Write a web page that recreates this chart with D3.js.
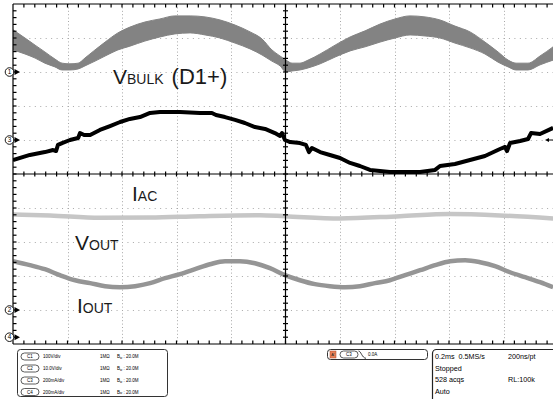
<!DOCTYPE html>
<html>
<head>
<meta charset="utf-8">
<script src="https://cdn.jsdelivr.net/npm/d3@7"></script>
<style>
  body { margin: 0; background: #fff; }
  svg { display: block; font-family: "Liberation Sans", Arial, sans-serif; }
  text { white-space: pre; }
</style>
</head>
<body>
<svg id="scope" width="553" height="399"></svg>
<script>
// ---- Time base and graticule (0.2 ms/div, 10 divisions) ----
const timeDomainMs = [0, 2];
const divDomain = [-5, 5];

// ---- Channel settings ----
const channelIds      = ["C1", "C2", "C3", "C4"];
const channelScaleTxt = ["100V/div", "10.0V/div", "200mA/div", "200mA/div"];
const unitsPerDiv     = [100, 10, 200, 200];
const groundDiv       = [3, -4, 1, -4.8];
const markerLabels    = ["1", "2", "3", "4"];

// ---- C1: bulk capacitor voltage, ripple envelope (V) ----
const bulkTime = [0.000,0.044,0.081,0.117,0.154,0.180,0.209,0.239,0.264,0.301,0.338,0.385,0.429,0.484,0.539,0.594,0.650,0.705,0.760,0.815,0.870,0.914,0.950,0.980,1.002,1.024,1.053,1.083,1.127,1.182,1.237,1.292,1.347,1.402,1.457,1.512,1.567,1.622,1.677,1.732,1.780,1.817,1.846,1.890,1.934,1.982];
const bulkHigh = [124,100,79,59,38,26,24,26,41,65,88,115,132,147,156,165,165,162,153,138,118,97,65,47,35,26,26,35,53,79,103,121,141,156,165,162,153,135,118,88,59,35,26,26,47,74];
const bulkLow  = [65,53,41,26,15,6,6,9,18,32,47,65,76,91,103,112,115,109,100,85,68,50,32,18,0,3,6,12,24,44,62,74,88,100,109,106,100,85,71,53,29,15,6,6,21,35];

// ---- C2: output voltage (V) ----
const voutTime  = [0.000,0.136,0.319,0.503,0.686,0.906,0.998,1.200,1.420,1.604,1.787,1.982];
const voutValue = [28.1,27.8,27.1,27.2,27.6,27.9,27.6,26.9,27.6,28.2,27.8,26.9];

// ---- C3: input current (mA) ----
const iacTime  = [0.000,0.062,0.117,0.147,0.158,0.165,0.180,0.209,0.239,0.246,0.261,0.283,0.319,0.356,0.393,0.429,0.466,0.503,0.539,0.613,0.686,0.730,0.745,0.778,0.815,0.851,0.888,0.925,0.961,0.980,0.987,0.998,1.017,1.053,1.075,1.086,1.097,1.127,1.163,1.200,1.237,1.273,1.310,1.383,1.494,1.549,1.567,1.622,1.677,1.732,1.787,1.806,1.813,1.824,1.861,1.890,1.901,1.934,1.982];
const iacValue = [-118,-88,-71,-59,-65,-29,-18,0,12,41,29,29,59,82,106,124,135,159,165,165,159,159,147,135,118,100,76,65,41,24,41,0,-12,-18,-29,-71,-47,-71,-88,-106,-135,-153,-176,-188,-188,-176,-153,-141,-118,-94,-53,-41,-65,-18,-6,6,41,35,71];

// ---- C4: output current (mA) ----
const ioutTime  = [0.000,0.062,0.117,0.172,0.228,0.283,0.338,0.393,0.448,0.503,0.558,0.613,0.668,0.723,0.778,0.833,0.888,0.943,0.998,1.053,1.108,1.163,1.218,1.273,1.328,1.383,1.439,1.494,1.549,1.604,1.659,1.714,1.769,1.824,1.879,1.934,1.982];
const ioutValue = [447,424,400,365,335,318,300,294,300,318,347,371,400,429,447,447,435,406,365,335,312,300,294,300,318,335,365,394,424,447,453,441,418,382,353,324,294];

// ---- Acquisition status ----
const statusLines = [["0.2ms  0.5MS/s", "200ns/pt"], ["Stopped", ""], ["528 acqs", "RL:100k"], ["Auto", ""]];
const bandwidthText = "20.0M";
const triggerLevel = "0.0A";

// ---- Layout ----
const svg = d3.select("#scope");
const plot = { left: 13, right: 558, top: 4, bottom: 344 };
const x = d3.scaleLinear().domain(timeDomainMs).range([plot.left, plot.right]);
const y = d3.scaleLinear().domain(divDomain).range([plot.bottom, plot.top]);
const toDiv = (ch, v) => v / unitsPerDiv[ch] + groundDiv[ch];

svg.append("defs").append("clipPath").attr("id", "plotClip")
  .append("rect").attr("x", plot.left).attr("y", plot.top)
  .attr("width", plot.right - plot.left).attr("height", plot.bottom - plot.top);

// dotted graticule
const grid = svg.append("g").attr("stroke", "#a8a8a8").attr("stroke-width", 1);
d3.range(0.2, 1.99, 0.2).forEach(t => {
  if (Math.abs(t - 1) < 1e-6) return;
  grid.append("line").attr("x1", Math.round(x(t)) + 0.5).attr("x2", Math.round(x(t)) + 0.5)
    .attr("y1", plot.top).attr("y2", plot.bottom).attr("stroke-dasharray", "1,2.4");
});
d3.range(-4, 5, 1).forEach(d => {
  if (d === 0) return;
  grid.append("line").attr("y1", Math.round(y(d)) + 0.5).attr("y2", Math.round(y(d)) + 0.5)
    .attr("x1", plot.left).attr("x2", plot.right).attr("stroke-dasharray", "1,4.45");
});

const traces = svg.append("g").attr("clip-path", "url(#plotClip)");

// C1 ripple band
const bulkData = bulkTime.map((t, i) => ({ t, hi: bulkHigh[i], lo: bulkLow[i] }));
traces.append("path").datum(bulkData)
  .attr("fill", "#838383").attr("stroke", "#838383").attr("stroke-width", 1)
  .attr("d", d3.area().curve(d3.curveMonotoneX)
    .x(d => x(d.t)).y0(d => y(toDiv(0, d.lo))).y1(d => y(toDiv(0, d.hi))));

// C2 output voltage
traces.append("path").datum(voutTime.map((t, i) => ({ t, v: voutValue[i] })))
  .attr("fill", "none").attr("stroke", "#c6c6c6").attr("stroke-width", 4.5)
  .attr("d", d3.line().curve(d3.curveMonotoneX).x(d => x(d.t)).y(d => y(toDiv(1, d.v))));

// C4 output current
traces.append("path").datum(ioutTime.map((t, i) => ({ t, v: ioutValue[i] })))
  .attr("fill", "none").attr("stroke", "#959595").attr("stroke-width", 4.5)
  .attr("d", d3.line().curve(d3.curveMonotoneX).x(d => x(d.t)).y(d => y(toDiv(3, d.v))));

// C3 input current
traces.append("path").datum(iacTime.map((t, i) => ({ t, v: iacValue[i] })))
  .attr("fill", "none").attr("stroke", "#000").attr("stroke-width", 4)
  .attr("stroke-linejoin", "round")
  .attr("d", d3.line().x(d => x(d.t)).y(d => y(toDiv(2, d.v))));

// axes and minor ticks
const ax = svg.append("g").attr("stroke", "#000").attr("stroke-width", 1.2);
ax.append("line").attr("x1", plot.left).attr("x2", plot.right).attr("y1", plot.top).attr("y2", plot.top);
ax.append("line").attr("x1", plot.left).attr("x2", plot.right).attr("y1", plot.bottom).attr("y2", plot.bottom);
ax.append("line").attr("x1", plot.left).attr("x2", plot.left).attr("y1", plot.top).attr("y2", plot.bottom);
ax.append("line").attr("x1", x(1)).attr("x2", x(1)).attr("y1", plot.top).attr("y2", plot.bottom);
ax.append("line").attr("x1", plot.left).attr("x2", plot.right).attr("y1", y(0)).attr("y2", y(0));
d3.range(0.04, 1.999, 0.04).forEach(t => {
  const px = x(t);
  ax.append("line").attr("x1", px).attr("x2", px).attr("y1", plot.top).attr("y2", plot.top + 3.5);
  ax.append("line").attr("x1", px).attr("x2", px).attr("y1", plot.bottom).attr("y2", plot.bottom - 3.5);
  ax.append("line").attr("x1", px).attr("x2", px).attr("y1", y(0) - 2.5).attr("y2", y(0) + 2.5);
});
d3.range(-4.8, 4.99, 0.2).forEach(d => {
  const py = y(d);
  ax.append("line").attr("x1", plot.left).attr("x2", plot.left + 3.5).attr("y1", py).attr("y2", py);
  ax.append("line").attr("x1", x(1) - 2.5).attr("x2", x(1) + 2.5).attr("y1", py).attr("y2", py);
});

// channel ground markers
[0, 1, 2, 3].forEach(ch => {
  const py = y(groundDiv[ch]);
  const g = svg.append("g");
  g.append("circle").attr("cx", 9.5).attr("cy", py).attr("r", 4.3)
    .attr("fill", "#fff").attr("stroke", "#000").attr("stroke-width", 0.9);
  g.append("text").attr("x", 9.5).attr("y", py + 2.2).attr("text-anchor", "middle")
    .attr("font-size", 6.3).text(markerLabels[ch]);
  g.append("path").attr("d", `M14.5,${py - 3}L20,${py}L14.5,${py + 3}Z`).attr("fill", "#000");
});
// trigger level marker on the right
const trigY = y(groundDiv[2]);
svg.append("path").attr("d", `M545,${trigY}L549,${trigY - 2}L549,${trigY + 2}Z`).attr("fill", "#000");
svg.append("line").attr("x1", 548).attr("x2", 553).attr("y1", trigY).attr("y2", trigY)
  .attr("stroke", "#000").attr("stroke-width", 1);

// trace annotations
function label(xp, yp, big, small, rest) {
  const t = svg.append("text").attr("x", xp).attr("y", yp).attr("fill", "#1a1a1a").attr("font-size", 21);
  t.append("tspan").text(big);
  t.append("tspan").attr("font-size", 14).text(small);
  if (rest) t.append("tspan").attr("dx", 8).attr("font-size", 22).text(rest);
}
label(113, 84, "V", "BULK", "(D1+)");
label(132, 201, "I", "AC");
label(75, 250, "V", "OUT");
label(77, 313, "I", "OUT");

// ---- bottom panels ----
const panel = svg.append("g");
panel.append("rect").attr("x", 17.5).attr("y", 349.5).attr("width", 150).attr("height", 47)
  .attr("rx", 3).attr("fill", "#fff").attr("stroke", "#333").attr("stroke-width", 1);
const rowY = [356.5, 368.5, 380.5, 392];
channelIds.forEach((id, i) => {
  const cy = rowY[i];
  panel.append("rect").attr("x", 21).attr("y", cy - 3.5).attr("width", 18).attr("height", 7)
    .attr("rx", 3.5).attr("fill", "#fff").attr("stroke", "#333").attr("stroke-width", 0.8);
  panel.append("text").attr("x", 30).attr("y", cy + 1.6).attr("text-anchor", "middle")
    .attr("font-size", 4.5).text(id);
  panel.append("text").attr("x", 43).attr("y", cy + 1.6).attr("font-size", 4.5).text(channelScaleTxt[i]);
  panel.append("text").attr("x", 100).attr("y", cy + 1.6).attr("font-size", 4.5).text("1MΩ");
  const bw = panel.append("text").attr("x", 117).attr("y", cy + 1.6).attr("font-size", 4.5);
  bw.append("tspan").text("B");
  bw.append("tspan").attr("font-size", 3).attr("dy", 0.8).text("w");
  bw.append("tspan").attr("dy", -0.8).text(" : " + bandwidthText);
});

// trigger box
panel.append("rect").attr("x", 327.5).attr("y", 349.5).attr("width", 100).attr("height", 10)
  .attr("rx", 3).attr("fill", "#fff").attr("stroke", "#333").attr("stroke-width", 1);
panel.append("rect").attr("x", 330).attr("y", 351).attr("width", 6).attr("height", 7)
  .attr("fill", "#e8825a").attr("stroke", "#b04a2a").attr("stroke-width", 0.5);
panel.append("text").attr("x", 333).attr("y", 356.3).attr("text-anchor", "middle")
  .attr("font-size", 4).attr("fill", "#222").text("A'");
panel.append("rect").attr("x", 340).attr("y", 351).attr("width", 18).attr("height", 7)
  .attr("rx", 3.5).attr("fill", "#fff").attr("stroke", "#333").attr("stroke-width", 0.8);
panel.append("text").attr("x", 349).attr("y", 356.2).attr("text-anchor", "middle")
  .attr("font-size", 4.5).text(channelIds[2]);
panel.append("path").attr("d", "M358.5,351 C361,351 362,358 366,358.3")
  .attr("fill", "none").attr("stroke", "#222").attr("stroke-width", 0.9);
panel.append("text").attr("x", 368).attr("y", 356).attr("font-size", 4.5).text(triggerLevel);

// acquisition box
panel.append("rect").attr("x", 432.5).attr("y", 349.5).attr("width", 130).attr("height", 60)
  .attr("rx", 4).attr("fill", "#fff").attr("stroke", "#222").attr("stroke-width", 1.2);
const statusY = [359, 370.5, 382, 393.5];
statusLines.forEach((pair, i) => {
  panel.append("text").attr("x", 435).attr("y", statusY[i]).attr("font-size", 7.2).text(pair[0]);
  if (pair[1]) panel.append("text").attr("x", 508).attr("y", statusY[i]).attr("font-size", 7.2).text(pair[1]);
});
</script>
</body>
</html>
